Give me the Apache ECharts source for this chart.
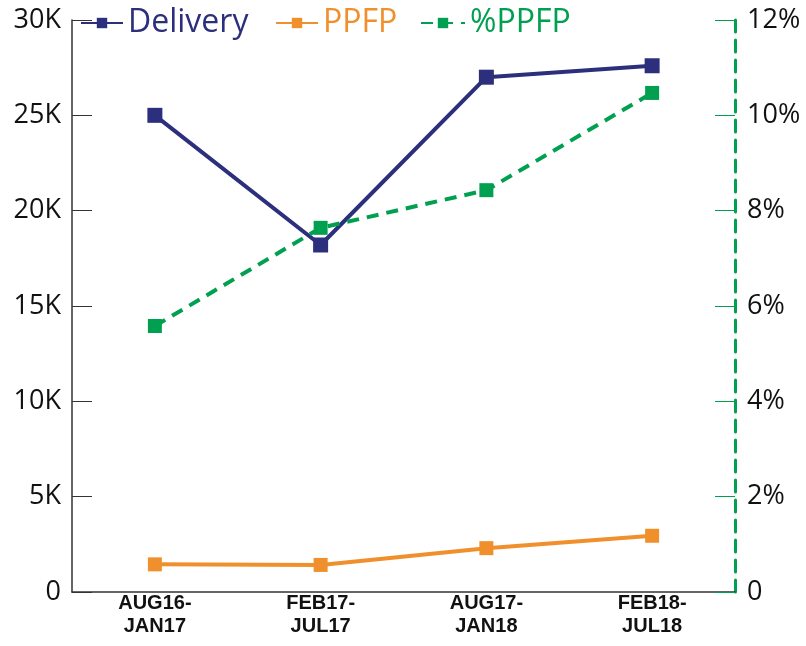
<!DOCTYPE html>
<html><head><meta charset="utf-8">
<script src="https://cdn.jsdelivr.net/npm/echarts@6/dist/echarts.min.js"></script>
<style>html,body{margin:0;padding:0;background:#fff;overflow:hidden}#c{width:806px;height:646px}</style>
</head><body><div id="c"></div>
<script>
const categories = ['AUG16-\nJAN17', 'FEB17-\nJUL17', 'AUG17-\nJAN18', 'FEB18-\nJUL18'];
const delivery = [25000, 18200, 27000, 27600];
const ppfp = [1450, 1420, 2300, 2950];
const pctPpfp = [5.58, 7.64, 8.43, 10.47];
const leftTicks = { min: 0, max: 30000, interval: 5000 };
const rightTicks = { min: 0, max: 12, interval: 2 };

const navy = '#2B2F7C', orange = '#F0902C', green = '#00A050';
const font = '"Open Sans", "Noto Sans", sans-serif';
function legendAt(left, name, color, w) {
  return {
    left: left, top: 7, itemWidth: w, itemHeight: 13, padding: 0,
    textStyle: { fontFamily: font, fontSize: 32, color: color, padding: [0, 0, 0, 0] },
    data: [name]
  };
}
const chart = echarts.init(document.getElementById('c'), null, { renderer: 'canvas' });
chart.setOption({
  animation: false,
  backgroundColor: '#fff',
  grid: { left: 72, right: 71, top: 20, bottom: 54, containLabel: false },
  legend: [
    legendAt(80, 'Delivery', navy, 42),
    legendAt(275, 'PPFP', orange, 42),
    legendAt(420, '%PPFP', green, 44)
  ],
  xAxis: {
    type: 'category', data: categories, boundaryGap: true,
    axisLine: { lineStyle: { color: '#333', width: 1.5 } },
    axisTick: { inside: true, length: 20, lineStyle: { color: '#333', width: 1 } },
    axisLabel: { fontFamily: '"Liberation Sans", Arial, sans-serif', fontWeight: 'bold', fontSize: 20, color: '#111', lineHeight: 23, margin: 0 }
  },
  yAxis: [
    {
      type: 'value', min: leftTicks.min, max: leftTicks.max, interval: leftTicks.interval, position: 'left',
      splitLine: { show: false },
      axisLine: { show: true, lineStyle: { color: '#333', width: 1.5 } },
      axisTick: { show: true, inside: true, length: 20, lineStyle: { color: '#333', width: 1 } },
      axisLabel: { fontFamily: font, fontSize: 27, color: '#111', margin: 11,
        formatter: v => v === 0 ? '0' : (v / 1000) + 'K' }
    },
    {
      type: 'value', min: rightTicks.min, max: rightTicks.max, interval: rightTicks.interval, position: 'right',
      splitLine: { show: false },
      axisLine: { show: true, lineStyle: { color: green, width: 3, type: [12, 8] } },
      axisTick: { show: true, inside: true, length: 20, lineStyle: { color: green, width: 1 } },
      axisLabel: { fontFamily: font, fontSize: 27, color: '#111', margin: 12,
        formatter: v => v === 0 ? '0' : v + '%' }
    }
  ],
  series: [
    { name: 'Delivery', type: 'line', yAxisIndex: 0, data: delivery, symbol: 'rect', symbolSize: 15,
      itemStyle: { color: navy }, lineStyle: { color: navy, width: 4 } },
    { name: 'PPFP', type: 'line', yAxisIndex: 0, data: ppfp, symbol: 'rect', symbolSize: 14,
      itemStyle: { color: orange }, lineStyle: { color: orange, width: 4 } },
    { name: '%PPFP', type: 'line', yAxisIndex: 1, data: pctPpfp, symbol: 'rect', symbolSize: 14,
      itemStyle: { color: green }, lineStyle: { color: green, width: 4, type: [12, 8] } }
  ]
});
</script></body></html>
